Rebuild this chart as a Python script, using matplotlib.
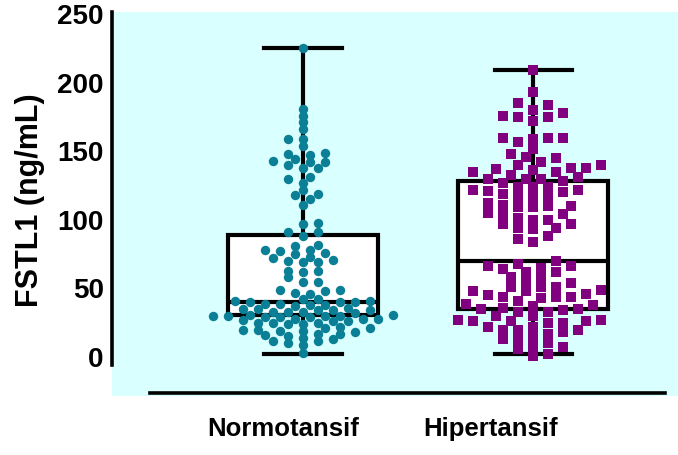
import matplotlib.pyplot as plt
import numpy as np

plt.rcParams['font.family'] = ['Liberation Sans', 'DejaVu Sans']
plt.rcParams['font.weight'] = 'bold'

groups = ["Normotansif", "Hipertansif"]

# FSTL1 values (ng/mL)
normo = [225, 181, 176, 171, 166, 159, 159, 154, 149, 147, 148, 142, 140, 144, 142,
         143, 138, 138, 131, 130, 127, 122, 119, 118, 115, 111, 98, 97, 91, 91, 88,
         82, 81, 78, 78, 77, 76, 75, 73, 72, 71, 70, 69, 69, 63, 63, 62, 58, 55, 55,
         49, 49, 48, 47, 46,
         42, 42, 41, 41, 40, 40, 40, 39, 39, 38, 38, 37, 36, 35, 35, 34, 34, 34, 33,
         33, 33, 32, 31, 31, 30, 30, 30, 30, 29, 29, 29, 28, 28, 28, 27, 26, 26, 25,
         25, 25, 24, 24, 22, 21, 21, 20, 20, 19, 19, 18, 17, 17, 16, 15, 14, 13, 12,
         12, 10, 9, 3]
hiper = [209, 193, 184, 185, 178, 175, 175, 160, 159, 160, 176, 160, 180, 172, 157,
         152, 138, 131, 148, 140, 133, 127, 146, 137, 140, 130, 122, 145, 136, 135,
         130, 142, 138, 130, 135, 128, 124,
         124, 119, 109, 100, 124, 117, 110, 105, 94, 120, 112, 104, 97, 121, 111, 104,
         97, 93, 117, 109, 101, 94, 117, 110, 100, 122, 84, 88, 86,
         66, 68, 62, 55, 48, 65, 58, 51, 44, 54, 46, 70, 62, 66, 58, 64, 48, 49, 41,
         33, 27, 44, 51, 43, 37, 45, 51, 44, 35, 27, 36, 20, 26, 20, 13, 34, 26, 18,
         38, 30, 22, 15, 26, 17, 35, 25, 13, 33, 25, 20, 39, 30, 22, 8, 1, 7, 10, 2, 6]

# box summary: low whisker, Q1, median, Q3, high whisker
normo_box = [2, 31, 40, 89, 225]
hiper_box = [2, 35, 70, 128, 209]

W, H = 678, 455
fig = plt.figure(figsize=(W / 100, H / 100), dpi=100)
ax = fig.add_axes([112 / W, 59 / H, 566 / W, 384 / H])
ax.set_facecolor('#d9ffff')
xlim = (0.17, 2.63)
ylim = (-28.4, 251.5)
ax.set_xlim(*xlim)
ax.set_ylim(*ylim)

px_x = 566 / (xlim[1] - xlim[0])
px_y = 384 / (ylim[1] - ylim[0])


def swarm(vals, sx, sy, step_px):
    # greedy beeswarm with an elliptical keep-out zone (pixels)
    vals = np.asarray(vals, float)
    ypx = vals * px_y
    out = np.zeros(len(vals))
    px_placed, py_placed = [], []
    for n, i in enumerate(np.argsort(vals)):
        sign = 1 if n % 2 else -1
        cands = [0.0]
        for k in range(1, 40):
            cands += [sign * k * step_px, -sign * k * step_px]
        for c in cands:
            if all(((c - a) / sx) ** 2 + ((ypx[i] - b) / sy) ** 2 >= 1
                   for a, b in zip(px_placed, py_placed)):
                break
        px_placed.append(c)
        py_placed.append(ypx[i])
        out[i] = c
    return out / px_x


stats = []
for b in (normo_box, hiper_box):
    stats.append(dict(whislo=b[0], q1=b[1], med=b[2], q3=b[3], whishi=b[4], fliers=[]))

ax.bxp(stats, positions=[1, 2], widths=0.652, capwidths=0.335, patch_artist=True,
       showfliers=False,
       boxprops=dict(facecolor='white', edgecolor='black', linewidth=3),
       whiskerprops=dict(color='black', linewidth=3),
       capprops=dict(color='black', linewidth=3),
       medianprops=dict(color='black', linewidth=3))

xn = 1 + swarm(normo, 12, 6, 7.5)
xh = 2 + swarm(hiper, 12, 9, 7.5)
ax.scatter(xn, normo, s=46, marker='o', color='#0a7f95', linewidths=0, zorder=4)
ax.scatter(xh, hiper, s=52, marker='s', color='#800080', linewidths=0, zorder=4)

for s in ('top', 'right'):
    ax.spines[s].set_visible(False)
ax.spines['left'].set_linewidth(2.6)
ax.spines['left'].set_bounds(-6, ylim[1])
ax.spines['bottom'].set_linewidth(2.6)
ax.spines['bottom'].set_position(('data', -26.2))
ax.spines['bottom'].set_bounds(0.335, 2.574)

ax.set_yticks([0, 50, 100, 150, 200, 250])
ax.set_xticks([0.913, 1.817])
ax.set_xticklabels(groups)
ax.tick_params(axis='y', length=0, labelsize=20, pad=6)
ax.tick_params(axis='x', length=0, labelsize=18.5, pad=17)

ax.set_ylabel('FSTL1 (ng/mL)', fontsize=22, fontweight='bold')
ax.yaxis.set_label_coords(-0.118, 0.51)

fig.savefig('out.png', dpi=100)
